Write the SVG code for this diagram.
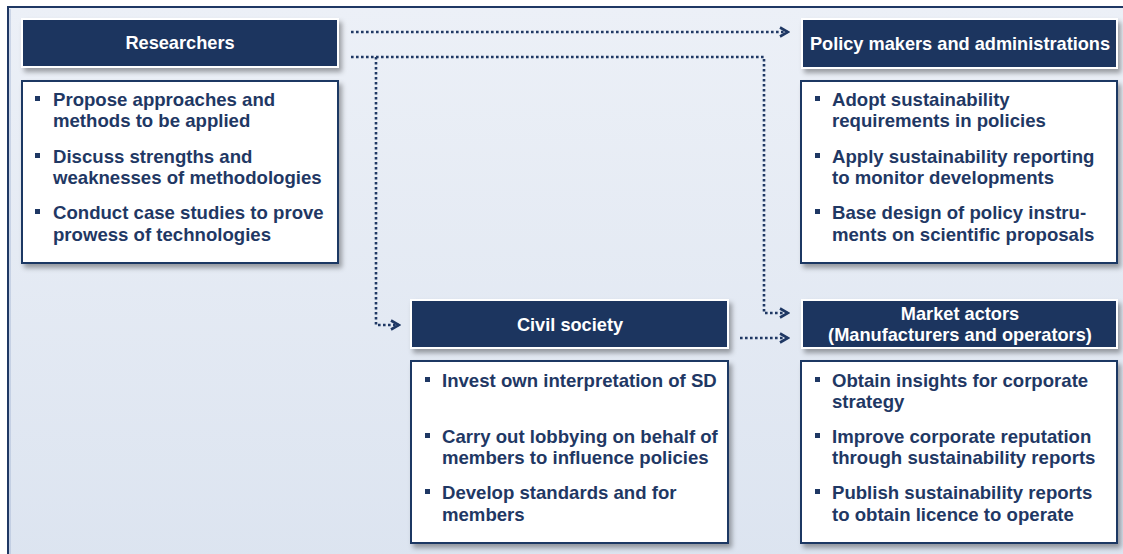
<svg xmlns="http://www.w3.org/2000/svg" width="1123" height="554" viewBox="0 0 1123 554">
<defs>
<linearGradient id="bg" x1="0" y1="0" x2="0" y2="1">
<stop offset="0" stop-color="#ecf0f7"/>
<stop offset="1" stop-color="#dce4f0"/>
</linearGradient>
<filter id="sh" x="-5%" y="-10%" width="112%" height="130%">
<feDropShadow dx="3" dy="4" stdDeviation="2.5" flood-color="#000" flood-opacity="0.35"/>
</filter>
<marker id="ah" viewBox="0 0 12 12" refX="10" refY="6" markerWidth="12" markerHeight="12" markerUnits="userSpaceOnUse" orient="auto">
<path d="M2,1.5 L10,6 L2,10.5" fill="none" stroke="#1f3864" stroke-width="2.6"/>
</marker>
<style>
.hd{fill:#1b365e;stroke:#fff;stroke-width:2;filter:url(#sh)}
.bd{fill:#fff;stroke:#1f3864;stroke-width:2;filter:url(#sh)}
.ht{font-family:"Liberation Sans",Arial,sans-serif;font-weight:bold;font-size:18.2px;fill:#fff;text-anchor:middle}
.bt{font-family:"Liberation Sans",Arial,sans-serif;font-weight:bold;font-size:18.6px;fill:#1f3864}
.bl{fill:#1f3864}
.cn{fill:none;stroke:#1f3864;stroke-width:2.6;stroke-dasharray:2.6 2.4}
</style>
</defs>
<rect x="8" y="7" width="1130" height="560" fill="url(#bg)" stroke="#1f3864" stroke-width="2"/>
<line x1="10" y1="9" x2="10" y2="554" stroke="#a9bad6" stroke-width="1"/>

<g id="connectors">
<path class="cn" d="M351,32 H788" marker-end="url(#ah)"/>
<path class="cn" d="M351,57 H764 V313 H788" marker-end="url(#ah)"/>
<path class="cn" d="M376,57 V325 H399" marker-end="url(#ah)"/>
<path class="cn" d="M740,338 H788" marker-end="url(#ah)"/>
</g>

<g id="researchers">
<rect class="hd" x="22" y="19" width="316" height="48"/>
<text class="ht" x="180" y="49">Researchers</text>
<rect class="bd" x="22" y="81" width="316" height="182"/>
<rect class="bl" x="35" y="96" width="5" height="5"/>
<rect class="bl" x="35" y="153" width="5" height="5"/>
<rect class="bl" x="35" y="209" width="5" height="5"/>
<text class="bt" x="53" y="106">Propose approaches and</text>
<text class="bt" x="53" y="127">methods to be applied</text>
<text class="bt" x="53" y="163">Discuss strengths and</text>
<text class="bt" x="53" y="184">weaknesses of methodologies</text>
<text class="bt" x="53" y="219">Conduct case studies to prove</text>
<text class="bt" x="53" y="241">prowess of technologies</text>
</g>

<g id="policy">
<rect class="hd" x="802" y="19" width="315" height="49"/>
<text class="ht" x="960" y="50">Policy makers and administrations</text>
<rect class="bd" x="801" y="81" width="316" height="182"/>
<rect class="bl" x="815" y="96" width="5" height="5"/>
<rect class="bl" x="815" y="153" width="5" height="5"/>
<rect class="bl" x="815" y="209" width="5" height="5"/>
<text class="bt" x="832" y="106">Adopt sustainability</text>
<text class="bt" x="832" y="127">requirements in policies</text>
<text class="bt" x="832" y="163">Apply sustainability reporting</text>
<text class="bt" x="832" y="184">to monitor developments</text>
<text class="bt" x="832" y="219">Base design of policy instru-</text>
<text class="bt" x="832" y="241">ments on scientific proposals</text>
</g>

<g id="civil">
<rect class="hd" x="411" y="300" width="317" height="48"/>
<text class="ht" x="570" y="331">Civil society</text>
<rect class="bd" x="411" y="361" width="317" height="182"/>
<rect class="bl" x="425" y="377" width="5" height="5"/>
<rect class="bl" x="425" y="433" width="5" height="5"/>
<rect class="bl" x="425" y="489" width="5" height="5"/>
<text class="bt" x="442" y="387">Invest own interpretation of SD</text>
<text class="bt" x="442" y="443">Carry out lobbying on behalf of</text>
<text class="bt" x="442" y="464">members to influence policies</text>
<text class="bt" x="442" y="499">Develop standards and for</text>
<text class="bt" x="442" y="521">members</text>
</g>

<g id="market">
<rect class="hd" x="802" y="300" width="315" height="48"/>
<text class="ht" x="960" y="320">Market actors</text>
<text class="ht" x="960" y="341">(Manufacturers and operators)</text>
<rect class="bd" x="801" y="361" width="316" height="182"/>
<rect class="bl" x="815" y="377" width="5" height="5"/>
<rect class="bl" x="815" y="433" width="5" height="5"/>
<rect class="bl" x="815" y="489" width="5" height="5"/>
<text class="bt" x="832" y="387">Obtain insights for corporate</text>
<text class="bt" x="832" y="408">strategy</text>
<text class="bt" x="832" y="443">Improve corporate reputation</text>
<text class="bt" x="832" y="464">through sustainability reports</text>
<text class="bt" x="832" y="499">Publish sustainability reports</text>
<text class="bt" x="832" y="521">to obtain licence to operate</text>
</g>
</svg>
